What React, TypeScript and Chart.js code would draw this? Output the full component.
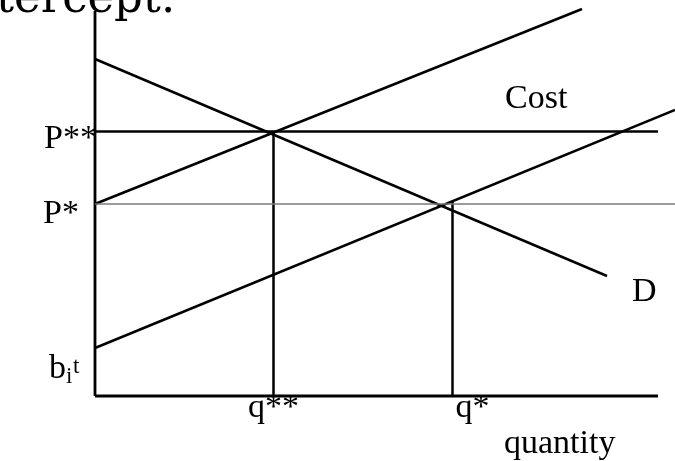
import React, { useEffect, useRef } from "react";
import { Chart, registerables } from "chart.js";

Chart.register(...registerables);

// Economic values (quantity units on x, price units on y)
const P_STAR = 3.84; // P*
const P_STAR2 = 5.29; // P**
const Q_STAR = 7.15; // q*
const Q_STAR2 = 3.57; // q**
const B_INTERCEPT = 0.96; // b_i^t

const X_MIN = -1.9;
const X_MAX = 11.6;
const Y_MIN = -1.3;
const Y_MAX = 7.92;
const AXIS_X_END = 11.26;
const AXIS_Y_END = 7.7;

// Demand curve endpoints
const demandX = [0, 10.24];
const demandY = [6.74, 2.4];
// Upper cost line
const costUpX = [0, 9.74];
const costUpY = [P_STAR, 7.74];
// Lower cost line
const costLowX = [0, X_MAX];
const costLowY = [B_INTERCEPT, 5.72];

const SERIF = '"Liberation Serif", "Times New Roman", serif';

const pts = (xs: number[], ys: number[]) => xs.map((x, i) => ({ x, y: ys[i] }));

const labelsPlugin = {
  id: "econLabels",
  afterDatasetsDraw(chart: any) {
    const { ctx, scales } = chart;
    const xs = scales.x;
    const ys = scales.y;
    const px = (v: number) => xs.getPixelForValue(v);
    const py = (v: number) => ys.getPixelForValue(v);
    ctx.save();
    ctx.fillStyle = "#000";
    ctx.textBaseline = "alphabetic";

    // Cut-off text at top
    ctx.font = `45px "DejaVu Serif", serif`;
    ctx.textAlign = "left";
    ctx.fillText("tercept.", -4, 12);

    ctx.font = `34px ${SERIF}`;
    // P** and P*
    ctx.textAlign = "left";
    ctx.fillText("P**", px(0) - 51, py(P_STAR2) + 16);
    ctx.fillText("P*", px(0) - 52, py(P_STAR) + 19);

    // b_i^t
    ctx.fillText("b", px(0) - 46, py(B_INTERCEPT) + 30);
    ctx.font = `23px ${SERIF}`;
    ctx.fillText("i", px(0) - 29, py(B_INTERCEPT) + 35);
    ctx.fillText("t", px(0) - 22, py(B_INTERCEPT) + 25);

    ctx.font = `34px ${SERIF}`;
    // q** and q*
    ctx.textAlign = "center";
    ctx.fillText("q**", px(Q_STAR2), py(0) + 21);
    ctx.textAlign = "left";
    ctx.fillText("q*", px(Q_STAR) + 3, py(0) + 21);

    // axis label and curve labels
    ctx.fillText("quantity", 504, 453);
    ctx.fillText("Cost", 505, 108);
    ctx.fillText("D", 632, 301);
    ctx.restore();
  },
};

export default function App() {
  const ref = useRef<HTMLCanvasElement | null>(null);

  useEffect(() => {
    if (!ref.current) return;
    const black = "#000000";
    const line = (data: any[], color = black, width = 2.5) => ({
      data,
      showLine: true,
      borderColor: color,
      backgroundColor: color,
      borderWidth: width,
      pointRadius: 0,
      fill: false,
      tension: 0,
    });
    const chart = new Chart(ref.current, {
      type: "scatter",
      data: {
        datasets: [
          line(pts([0, X_MAX], [P_STAR, P_STAR]), "#7a7a7a", 1.6),
          line(pts([0, AXIS_X_END], [0, 0]), black, 2.8),
          line(pts([0, 0], [0, AXIS_Y_END]), black, 2.8),
          line(pts(demandX, demandY)),
          line(pts(costUpX, costUpY)),
          line(pts(costLowX, costLowY)),
          line(pts([0, AXIS_X_END], [P_STAR2, P_STAR2]), black, 2.6),
          line(pts([Q_STAR2, Q_STAR2], [0, P_STAR2])),
          line(pts([Q_STAR, Q_STAR], [0, 3.88])),
        ] as any,
      },
      options: {
        animation: false,
        responsive: false,
        devicePixelRatio: 1,
        layout: { padding: 0 },
        plugins: {
          legend: { display: false },
          tooltip: { enabled: false },
          title: { display: false },
        },
        scales: {
          x: { type: "linear", display: false, min: X_MIN, max: X_MAX },
          y: { type: "linear", display: false, min: Y_MIN, max: Y_MAX },
        },
      },
      plugins: [labelsPlugin],
    });
    return () => chart.destroy();
  }, []);

  return (
    <canvas
      ref={ref}
      width={675}
      height={461}
      style={{ position: "fixed", left: 0, top: 0, width: 675, height: 461 }}
    />
  );
}
